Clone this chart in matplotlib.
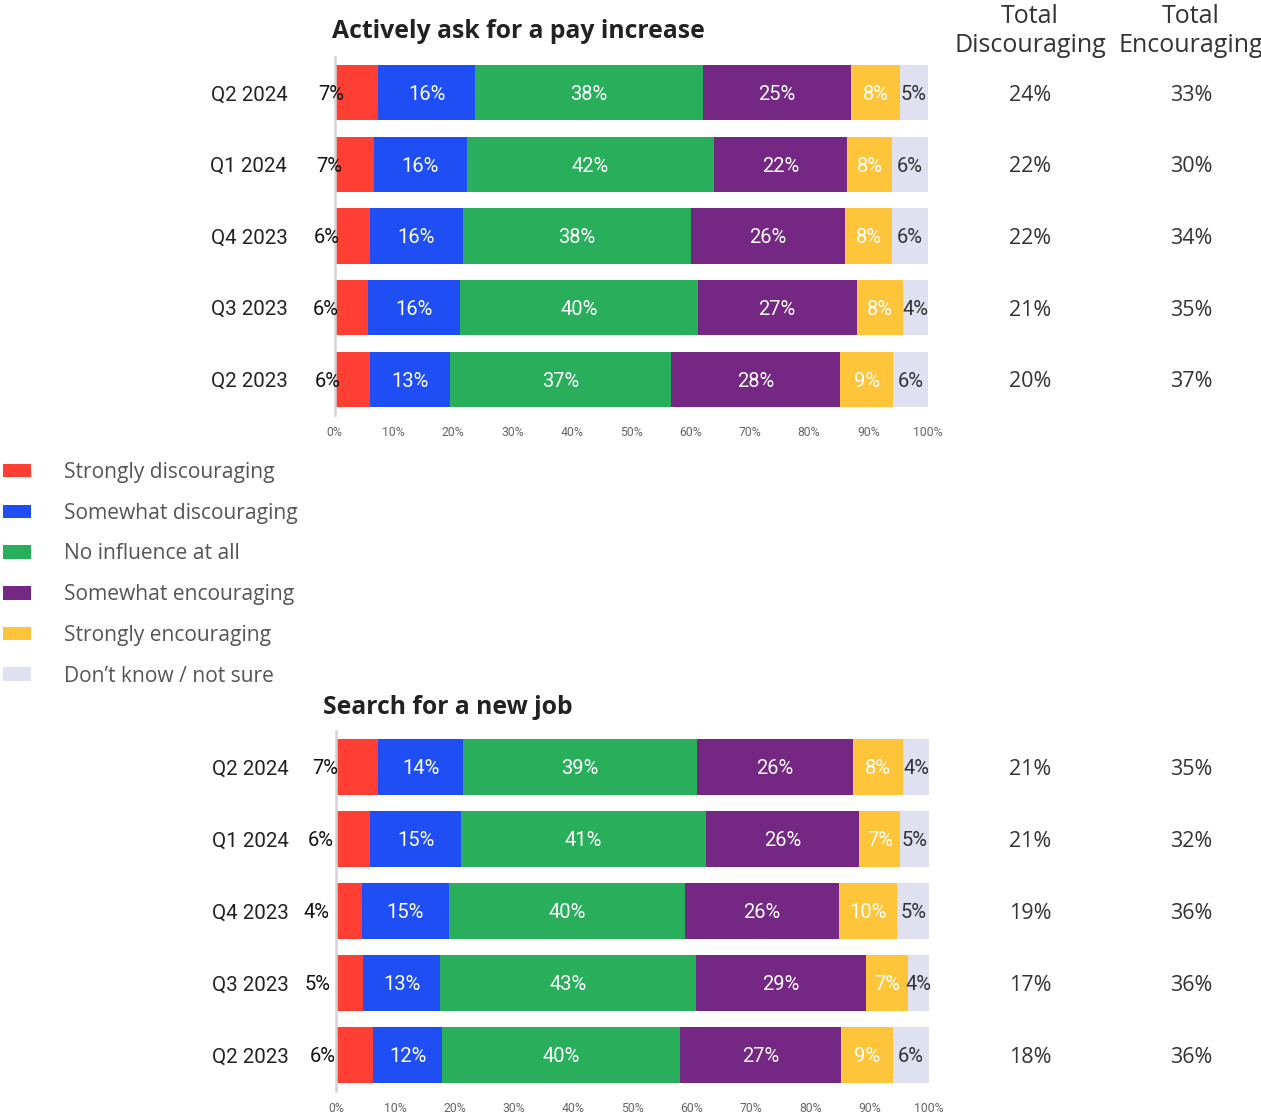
import numpy as np
import matplotlib
matplotlib.use("Agg")
import matplotlib.pyplot as plt
from matplotlib.transforms import blended_transform_factory

plt.rcParams['font.family'] = ['Roboto', 'DejaVu Sans']

categories = ["Strongly discouraging", "Somewhat discouraging", "No influence at all",
              "Somewhat encouraging", "Strongly encouraging", "Don\u2019t know / not sure"]
colors = ["#FF3F33", "#1F4EF5", "#29AE5C", "#742783", "#FFC53A", "#DFE1F0"]
quarters = ["Q2 2024", "Q1 2024", "Q4 2023", "Q3 2023", "Q2 2023"]

# valeurs (%) par trimestre, dans l'ordre des categories
pay_values = [
    [7.4, 16.3, 38.4, 25.0, 8.2, 4.7],
    [6.6, 15.7, 41.7, 22.4, 7.6, 6.0],
    [5.9, 15.8, 38.4, 26.0, 7.9, 6.0],
    [5.6, 15.6, 40.0, 26.8, 7.8, 4.2],
    [6.0, 13.4, 37.4, 28.4, 9.0, 5.8],
]
pay_discouraging = [24, 22, 22, 21, 20]
pay_encouraging = [33, 30, 34, 35, 37]

job_values = [
    [7.1, 14.3, 39.4, 26.4, 8.4, 4.4],
    [5.8, 15.2, 41.4, 25.8, 6.9, 4.9],
    [4.3, 14.7, 39.9, 25.8, 9.9, 5.4],
    [4.6, 12.9, 43.2, 28.6, 7.1, 3.6],
    [6.3, 11.6, 40.1, 27.2, 8.7, 6.1],
]
job_discouraging = [21, 21, 19, 17, 18]
job_encouraging = [35, 32, 36, 36, 36]

W, H = 1261, 1113
fig = plt.figure(figsize=(W / 100, H / 100), dpi=100)


def draw_panel(rect, title, title_x, title_y, values, disc, enc, red_off):
    ax = fig.add_axes(rect)
    vals = np.array(values)
    y = np.arange(len(quarters))
    left = np.zeros(len(quarters))
    handles = []
    for k in range(len(categories)):
        bars = ax.barh(y, vals[:, k], left=left, height=0.77, color=colors[k],
                       edgecolor='none', label=categories[k])
        handles.append(bars)
        for i in range(len(quarters)):
            lab = "%d%%" % round(vals[i, k])
            if k == 0:
                ax.text(vals[i, k] / 2 - red_off, y[i], lab, ha='right', va='center_baseline',
                        fontsize=14.5, color='#111111')
            else:
                c = '#333333' if k == 5 else 'white'
                ax.text(left[i] + vals[i, k] / 2, y[i], lab, ha='center', va='center_baseline',
                        fontsize=14.5, color=c)
        left = left + vals[:, k]

    ax.set_xlim(0, 100)
    ax.set_ylim(len(quarters) - 0.5, -0.5)
    ax.set_xticks(np.arange(0, 101, 10))
    ax.set_xticklabels(["%d%%" % t for t in range(0, 101, 10)], fontsize=8.8, color='#666666')
    ax.set_yticks(y)
    ax.set_yticklabels(quarters, fontsize=14.8, color='#222222')
    ax.tick_params(axis='x', length=0, pad=8)
    ax.tick_params(axis='y', length=0, pad=34)
    for s in ['top', 'right', 'bottom']:
        ax.spines[s].set_visible(False)
    ax.spines['left'].set_color('#d3d3d3')
    ax.spines['left'].set_linewidth(1.8)

    fig.text(title_x / W, 1 - title_y / H, title, fontsize=17.8, fontweight='bold',
             family='Open Sans', color='#222222', ha='left', va='center')

    tr = blended_transform_factory(fig.transFigure, ax.transData)
    for i in range(len(quarters)):
        ax.text(1030 / W, y[i], "%d%%" % disc[i], transform=tr, ha='center', va='center_baseline',
                fontsize=15.5, family='Open Sans', color='#333333')
        ax.text(1191 / W, y[i], "%d%%" % enc[i], transform=tr, ha='center', va='center_baseline',
                fontsize=15.5, family='Open Sans', color='#333333')
    return ax, handles


ax1, handles = draw_panel([334.5 / W, 1 - 415 / H, 593.3 / W, 358 / H],
                          "Actively ask for a pay increase", 332, 31,
                          pay_values, pay_discouraging, pay_encouraging, 2.0)
ax2, _ = draw_panel([336 / W, 1 - 1091 / H, 593.3 / W, 360 / H],
                    "Search for a new job", 323, 708,
                    job_values, job_discouraging, job_encouraging, 3.2)

# en-tetes des colonnes de totaux
fig.text(1030 / W, 1 - 31 / H, "Total\nDiscouraging", ha='center', va='center',
         fontsize=18, family='Open Sans', color='#333333', linespacing=1.2)
fig.text(1191 / W, 1 - 31 / H, "Total\nEncouraging", ha='center', va='center',
         fontsize=18, family='Open Sans', color='#333333', linespacing=1.2)

leg = fig.legend(handles=handles, labels=categories, loc='upper left',
                 bbox_to_anchor=(3 / W, 1 - 462 / H), frameon=False,
                 borderaxespad=0, borderpad=0, handlelength=1.35, handleheight=0.62,
                 handletextpad=1.55, labelspacing=0.94,
                 prop={'family': 'Open Sans', 'size': 15.1})
for t in leg.get_texts():
    t.set_color('#555555')

fig.savefig("out.png", dpi=100)
